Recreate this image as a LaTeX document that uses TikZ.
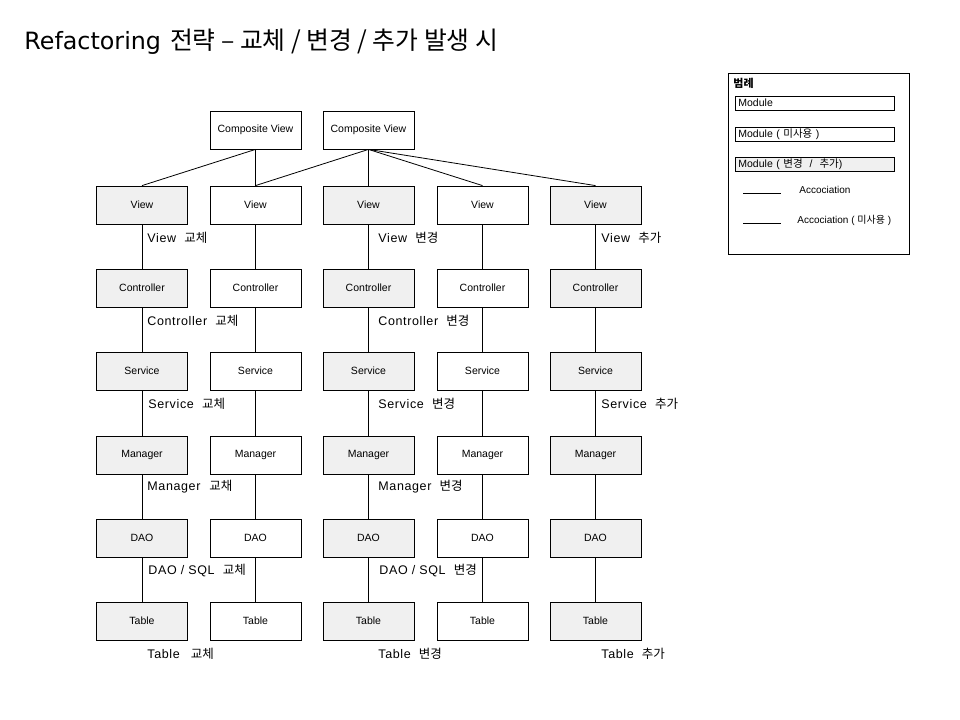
\documentclass[tikz,border=0pt]{standalone}
\usepackage{fontspec}
\setmainfont{Liberation Sans}
\newfontfamily\kr{Noto Sans CJK KR}
\newfontfamily\ttlfont{DejaVu Sans}
\newfontfamily\lblfont[LetterSpace=5]{Liberation Sans}
\newcommand\hk[1]{{\kr #1}}
\begin{document}
\begin{tikzpicture}[x=1bp,y=-1bp,line width=0.8bp,
  mod/.style={draw=black,fill=white,minimum width=91bp,minimum height=38bp,inner sep=0pt,
    font=\fontsize{10.5bp}{12bp}\selectfont},
  modg/.style={mod,fill=black!6},
  lbl/.style={anchor=west,inner sep=0pt,font=\lblfont\fontsize{12.5bp}{14bp}\selectfont},
  legbox/.style={draw=black,anchor=west,text width=153bp,inner xsep=3bp,inner ysep=0pt,
    minimum height=14bp,align=left,font=\fontsize{10.5bp}{12bp}\selectfont},
  legtxt/.style={anchor=west,inner sep=0pt,font=\fontsize{10bp}{12bp}\selectfont},
  link/.style={draw=black,line width=0.8bp}]
\useasboundingbox[fill=white] (0,0) rectangle (960,720);

% title
\node[anchor=base west,inner sep=0pt] (title) at (24,50)
  {\ttlfont\fontsize{23.8bp}{26bp}\selectfont Refactoring\hspace{9bp}{\kr\fontsize{24.8bp}{26bp}\selectfont 전략 – 교체 / 변경 / 추가 발생 시}};

% composite views
\node[mod] (c1) at (255.5,130) {Composite View};
\node[mod] (c2) at (368.5,130) {Composite View};

% columns
\foreach \col/\x/\st in {1/142/modg,2/255.5/mod,3/368.5/modg,4/482.5/mod,5/595.5/modg}{
  \node[\st] (v\col) at (\x,205) {View};
  \node[\st] (k\col) at (\x,288) {Controller};
  \node[\st] (s\col) at (\x,371) {Service};
  \node[\st] (m\col) at (\x,455) {Manager};
  \node[\st] (d\col) at (\x,538) {DAO};
  \node[\st] (t\col) at (\x,621) {Table};
  \draw[link] (v\col.south) -- (k\col.north);
  \draw[link] (k\col.south) -- (s\col.north);
  \draw[link] (s\col.south) -- (m\col.north);
  \draw[link] (m\col.south) -- (d\col.north);
  \draw[link] (d\col.south) -- (t\col.north);
}

\draw[link] (c1.south) -- (v1.north);
\draw[link] (c1.south) -- (v2.north);
\draw[link] (c2.south) -- (v2.north);
\draw[link] (c2.south) -- (v3.north);
\draw[link] (c2.south) -- (v4.north);
\draw[link] (c2.south) -- (v5.north);

% labels column 1
\node[lbl] (l11) at (147,238) {View\ \ \hk{교체}};
\node[lbl] (l12) at (147,321) {Controller\ \ \hk{교체}};
\node[lbl] (l13) at (148,404) {Service\ \ \hk{교체}};
\node[lbl] (l14) at (147,487) {Manager\hspace{9bp}\hk{교채}};
\node[lbl] (l15) at (148,571) {DAO / SQL\ \ \hk{교체}};
\node[lbl] (l16) at (147,654) {Table\hspace{11bp}\hk{교체}};
% labels column 3
\node[lbl] (l31) at (378,238) {View\ \ \hk{변경}};
\node[lbl] (l32) at (378,321) {Controller\ \ \hk{변경}};
\node[lbl] (l33) at (378,404) {Service\ \ \hk{변경}};
\node[lbl] (l34) at (378,487) {Manager\ \ \hk{변경}};
\node[lbl] (l35) at (379,571) {DAO / SQL\ \ \hk{변경}};
\node[lbl] (l36) at (378,654) {Table\ \ \hk{변경}};
% labels column 5
\node[lbl] (l51) at (601,238) {View\ \ \hk{추가}};
\node[lbl] (l53) at (601,404) {Service\ \ \hk{추가}};
\node[lbl] (l56) at (601,654) {Table\ \ \hk{추가}};

% legend
\node[draw=black,minimum width=181bp,minimum height=181bp,inner sep=0pt,anchor=north west] (legend) at (728,73) {};
\node[anchor=west,inner sep=0pt,font=\kr\bfseries\fontsize{11bp}{12bp}\selectfont] (legt) at (733,83) {범례};
\node[legbox] (lm1) at (735,103) {Module};
\node[legbox] (lm2) at (735,134) {Module ( \hk{미사용} )};
\node[legbox,fill=black!6] (lm3) at (735,164) {Module ( \hk{변경}\ \ /\ \ \hk{추가})};
\coordinate (la1) at (743,193);
\coordinate (lb1) at (781,193);
\coordinate (la2) at (743,223);
\coordinate (lb2) at (781,223);
\draw[link] (la1) -- (lb1);
\draw[link] (la2) -- (lb2);
\node[legtxt] (lt1) at (799,190) {Accociation};
\node[legtxt] (lt2) at (797,220) {Accociation ( \hk{미사용} )};
\end{tikzpicture}
\end{document}
